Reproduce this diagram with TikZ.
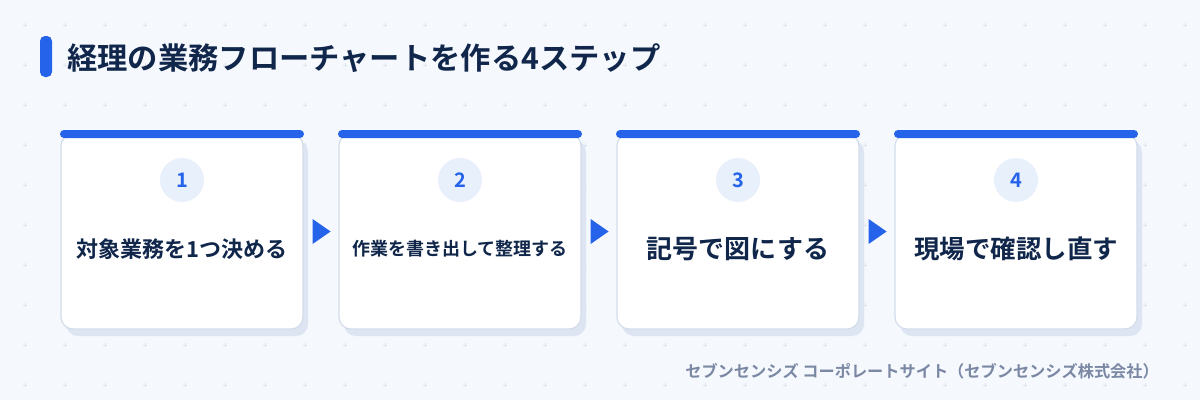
\documentclass[tikz,border=0pt]{standalone}
\usepackage{fontspec}
\setmainfont{Noto Sans CJK JP}[BoldFont={Noto Sans CJK JP Bold}]
\usetikzlibrary{calc}
\definecolor{bgcol}{HTML}{F5F8FD}
\definecolor{dotcol}{HTML}{DFE6F0}
\definecolor{stepblue}{HTML}{2563EB}
\definecolor{navy}{HTML}{10264A}
\definecolor{cardline}{HTML}{D3DDEA}
\definecolor{cardshadow}{HTML}{DCE5F1}
\definecolor{numfill}{HTML}{E8F0FC}
\definecolor{footcol}{HTML}{7B88A4}
\tikzset{
  card/.style={draw=cardline, line width=1.2pt, fill=white, rounded corners=12pt,
    minimum width=242pt, minimum height=195pt, inner sep=0pt},
  cardbar/.style={fill=stepblue, rounded corners=4pt},
  stepnum/.style={circle, fill=numfill, minimum size=44pt, inner sep=0pt,
    text=stepblue, font=\bfseries\fontsize{20}{24}\selectfont},
  steptext/.style={inner sep=0pt, text=navy},
  steparrow/.style={fill=stepblue}
}
\begin{document}
\begin{tikzpicture}[x=1pt,y=-1pt]
\fill[bgcol] (0,0) rectangle (1200,400);
\useasboundingbox (0,0) rectangle (1200,400);
% background grid of small crosses
\foreach \x in {25,65,...,1185}
  \foreach \y in {25,65,...,385}
    \draw[dotcol, line width=0.8pt] (\x-2,\y) -- (\x+2,\y) (\x,\y-2) -- (\x,\y+2);
% title
\fill[stepblue, rounded corners=5pt] (40,36) rectangle (52,77);
\node[anchor=west, inner sep=0pt, text=navy, font=\bfseries\fontsize{30.3}{34}\selectfont] (title) at (67,58) {経理の業務フローチャートを作る4ステップ};
% cards
\foreach \i/\lbl/\fs in {1/対象業務を1つ決める/22, 2/作業を書き出して整理する/18, 3/記号で図にする/26, 4/現場で確認し直す/25.5} {
  \pgfmathsetmacro{\cx}{182+(\i-1)*278}
  \fill[cardshadow, rounded corners=12pt] (\cx-116,140) rectangle (\cx+126,336);
  \node[card] (c\i) at (\cx,231.5) {};
  \fill[cardbar] (\cx-122,130) rectangle (\cx+122,138);
  \node[stepnum] (n\i) at (\cx,180) {\i};
  \node[steptext, font=\bfseries\fontsize{\fs}{\fs}\selectfont] (t\i) at (\cx,249) {\lbl};
}
% arrows between cards
\foreach \a in {1,2,3}
  \fill[steparrow] ($(c\a.east)+(9,-12.5)$) -- ($(c\a.east)+(27,0)$) -- ($(c\a.east)+(9,12.5)$) -- cycle;
% footer
\node[anchor=east, inner sep=0pt, text=footcol, font=\bfseries\fontsize{16.2}{19}\selectfont] (foot) at (1159,371) {セブンセンシズ コーポレートサイト（セブンセンシズ株式会社）};
\end{tikzpicture}
\end{document}
